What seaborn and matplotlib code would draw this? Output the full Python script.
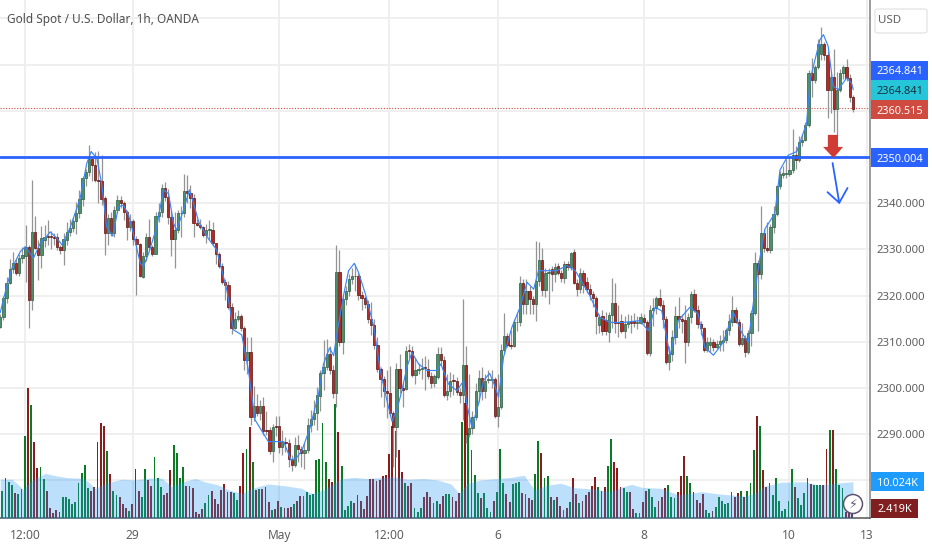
import pandas as pd
import numpy as np
import matplotlib
matplotlib.use("Agg")
import matplotlib.pyplot as plt
from matplotlib.patches import Rectangle, FancyBboxPatch, Circle
import seaborn as sns

# --- Candles (1h, one entry per bar) ---
opens = [
    2313.3,2315.4,2319.5,2322.8,2325.7,2327,2325,2328.2,2328.6,2330.6,
    2319,2333.8,2330.4,2328.8,2332,2333,2332.9,2332.6,2332.6,2330.6,
    2329.9,2332,2333.8,2334.6,2336.2,2337.8,2341,2345.4,2346.8,2349.5,
    2348.3,2345,2344.9,2341.2,2333.6,2336.7,2333.6,2338.5,2340.7,2340,
    2338,2334.8,2336.2,2332.2,2331.2,2324.1,2328.6,2332.6,2330.6,2329.1,
    2337.3,2338.2,2343.2,2341.3,2337.1,2332.2,2334.2,2337.8,2337.9,2342.7,
    2342.3,2341.1,2335.8,2335.3,2334.9,2333.1,2334.2,2334.2,2331.3,2329.1,
    2326.5,2322.9,2322.4,2317.6,2313.1,2314.9,2315.6,2312.9,2306.1,2307.8,
    2293.7,2296.1,2294.5,2296.1,2290.9,2290.9,2286.4,2291.7,2291.7,2287.2,
    2288.2,2288.2,2284.6,2283.4,2287.7,2286.8,2285.9,2286.5,2292.1,2293.3,
    2294.5,2298.3,2303.2,2304.5,2307.4,2303.8,2298.9,2325.1,2309.9,2319.3,
    2320.9,2323.6,2324.3,2324.2,2320.1,2319.4,2318.2,2315,2313.7,2309.3,
    2304.1,2302,2299.4,2298.9,2294.5,2291.5,2304.1,2300,2299.8,2308.1,
    2308.1,2302.9,2303.9,2304.2,2304.5,2304.2,2302.6,2301,2302.4,2307.4,
    2306.1,2298.5,2299.3,2301.6,2301.6,2299.2,2298.5,2304.9,2290,2291.4,
    2293.7,2299.4,2302.2,2299.4,2301.7,2301.8,2302,2294,2296,2308.3,
    2311.3,2309.3,2309,2314.2,2314.2,2322.7,2318.2,2321.1,2319.3,2318.2,
    2323.2,2327.7,2321.2,2325,2325.8,2324.7,2326.5,2324.8,2323.8,2326.9,
    2326.1,2329.4,2322.7,2321.4,2325,2323,2321.5,2320.4,2319.5,2313.6,
    2315.6,2314.7,2312.1,2315.9,2318.4,2314.4,2314.6,2312.3,2313.9,2314.2,
    2314.6,2314.1,2314.1,2315.1,2314.2,2307.6,2317,2317.3,2319.4,2318,
    2314.9,2305.6,2307.4,2311,2315.5,2314.9,2314.7,2309.9,2315.4,2320.4,
    2317,2313.8,2312.9,2308.2,2309.3,2310,2308.9,2309.5,2310,2310.4,
    2312.5,2314.4,2316.9,2314.4,2309.5,2310.8,2307.7,2312,2316.2,2327,
    2324.6,2333.5,2330.4,2329.8,2334.9,2337.7,2343.8,2346.2,2346.3,2346.3,
    2347.3,2350.4,2349.3,2353.3,2353.8,2356.9,2368.3,2366.7,2369.4,2372.4,
    2374.4,2372,2364.6,2367.3,2360.3,2364.6,2368.1,2369.5,2367.2,2363.1,
]
closes = [
    2315.4,2319.5,2322.8,2325.7,2327,2325,2328.2,2328.8,2330.6,2319,
    2333.8,2330.4,2328.8,2332.4,2332.8,2332.8,2332.6,2332.4,2330.6,2329.9,
    2332.2,2333.8,2334.6,2336.2,2337.8,2341,2345.4,2346.8,2349.5,2348.3,
    2345,2344.9,2341,2333.6,2336.7,2333.6,2338.5,2340.8,2340,2338,
    2334.9,2336.2,2332.2,2331.2,2324.2,2328.6,2332.6,2330.6,2329.1,2337.3,
    2338.2,2343.2,2341.3,2337.1,2332.2,2334.2,2337.8,2337.9,2342.7,2342.3,
    2341.1,2335.8,2335.3,2334.9,2333.1,2334.2,2334.3,2331.3,2329.1,2326.5,
    2322.9,2322.4,2317.6,2313.1,2314.9,2315.6,2312.9,2306.1,2307.9,2293.7,
    2296.1,2294.5,2296.1,2290.6,2290.6,2286.4,2291.6,2291.6,2287.3,2288.4,
    2288.1,2284.6,2283.4,2287.7,2286.8,2285.9,2286.6,2292.1,2293.3,2294.5,
    2298.4,2303.2,2304.5,2307.4,2303.8,2298.9,2325.1,2309.9,2319.3,2320.9,
    2323.6,2324.3,2324.2,2320.1,2319.4,2318.2,2315,2313.7,2309.3,2304.1,
    2302,2299.4,2298.9,2294.5,2291.5,2304.1,2300,2299.6,2308.1,2308,
    2302.9,2303.9,2304.2,2304.4,2304.3,2302.6,2301,2302.5,2307.4,2306.1,
    2298.5,2299.3,2301.5,2301.5,2299.2,2298.5,2304.9,2290,2291.4,2293.7,
    2299.4,2302.2,2299.4,2301.6,2301.8,2302,2294,2296,2308.3,2311.3,
    2309.3,2309.2,2314.2,2314.2,2322.7,2318.2,2321.1,2319.3,2318.2,2323.2,
    2327.7,2321.2,2325,2325.1,2324.7,2326.3,2324.8,2323.8,2326.9,2326.1,
    2329.2,2322.7,2321.4,2324.8,2322.3,2321.5,2320.4,2319.5,2315.6,2315.4,
    2312.3,2312.3,2315.9,2318.3,2314.1,2314.1,2312.4,2313.9,2314.4,2314.1,
    2314.1,2314.2,2315.3,2314.2,2307.6,2317,2317.3,2319.4,2318,2314.9,
    2305.6,2307.4,2311,2315.5,2314.9,2314.5,2309.9,2315.4,2320.4,2317,
    2313.8,2312.9,2308.2,2310,2310,2308.9,2309.5,2310.1,2310.5,2312.5,
    2314.6,2316.9,2314.4,2309.5,2310.8,2307.7,2312,2316.2,2327,2324.6,
    2333.5,2330.4,2329.9,2334.9,2337.7,2343.8,2346.3,2346.5,2346.5,2347.2,
    2350.4,2349.3,2353.3,2353.8,2356.9,2368.3,2366.7,2369.4,2374.4,2374.4,
    2372,2364.6,2367.3,2360.3,2364.6,2368.1,2369.5,2367.2,2363.1,2360.5,
]
highs = [
    2316,2320,2324,2328,2329.5,2328,2329,2330.5,2335.2,2331,
    2345,2337.2,2332,2335,2335.3,2336.3,2334,2333.5,2333.5,2331,
    2333.5,2336,2336.5,2337,2340.2,2342.8,2346,2347.5,2352.6,2350,
    2351,2351.3,2350.5,2341.5,2337.6,2338,2339.5,2341.7,2341.5,2340.5,
    2338.5,2337.6,2336.6,2333,2331.5,2329.5,2333.6,2336.5,2331,2338,
    2340,2344.2,2344.5,2343,2338.5,2338,2338.5,2339.5,2346.3,2346.2,
    2344,2342,2336.5,2336.5,2335,2335.5,2336.3,2336,2331.5,2329.5,
    2327,2323.5,2323.2,2318.5,2316.4,2317,2316,2313.5,2311,2311,
    2300.5,2298.8,2297.5,2298,2295,2291.5,2292.3,2294,2294,2291,
    2289.5,2289,2285.5,2289.5,2289.8,2287.5,2288,2293.5,2295.3,2297.5,
    2300.2,2304,2310.5,2310.6,2309,2305,2331,2329.8,2320,2322,
    2324.6,2326,2326.8,2325,2321,2320,2319,2318.7,2315,2311,
    2304.6,2302.5,2304,2304.8,2295,2305.5,2307.3,2301,2309,2309.5,
    2309,2306.5,2305.5,2306.5,2307,2306.3,2303.5,2303,2308.8,2308.8,
    2307,2303,2303.5,2303,2302.3,2300,2319.2,2309,2303,2295,
    2301,2304,2304.5,2303,2304,2304,2302.3,2303,2309.5,2316.3,
    2312,2312.5,2315,2316.5,2324.2,2323.5,2323.5,2322,2320,2331.9,
    2331.7,2330.3,2326,2326,2326.5,2327,2327,2325.5,2327.5,2327.5,
    2329.5,2330,2323.5,2326,2325.5,2324,2322.5,2321,2320,2316,
    2317,2316.5,2316.5,2323.8,2322.7,2318,2316,2315.5,2316,2315.8,
    2316.3,2315.5,2316.2,2316,2314.8,2318,2319.5,2320,2321.5,2319,
    2315.5,2309,2312.5,2317.8,2319.8,2316,2318,2316.3,2321,2321.5,
    2318,2314.5,2313.2,2311,2311,2310.6,2310.5,2311.5,2312.5,2313,
    2316,2319.9,2317.5,2315,2314,2311.5,2312.5,2317,2329.5,2327.8,
    2339.3,2334.5,2336,2335.5,2339.5,2344,2347,2348,2349.5,2350,
    2356,2352.5,2354.5,2355,2357.5,2368.8,2371.5,2370,2375.5,2378.2,
    2375,2373,2368,2373.5,2368.5,2369,2370,2371.2,2368,2363.5,
]
lows = [
    2313,2314.8,2318.5,2322.5,2325,2324.5,2324.2,2327,2323,2313,
    2316.9,2330,2323.3,2326,2330.5,2331,2330.2,2331,2329.8,2329,
    2326.6,2331,2333,2333.8,2333.3,2336.8,2339.5,2343.8,2345.8,2344.8,
    2344.5,2340,2339.7,2328.8,2331,2333,2332.8,2337.8,2339,2336.4,
    2332,2334,2331,2320.1,2324,2323.8,2327.5,2329.8,2328.6,2329,
    2336,2337,2340.5,2335.5,2328.6,2325.9,2333.5,2332.6,2337,2340,
    2339,2332.6,2335,2334.5,2332.8,2331.5,2332,2330.8,2326.9,2326,
    2322.5,2319,2317.2,2311.8,2312.8,2314.5,2312.3,2304,2303,2292,
    2292.8,2294,2293,2289.8,2289.8,2285.8,2284,2289.6,2286,2285.5,
    2286.2,2283,2282,2283,2284,2283,2282.5,2286,2290.5,2292,
    2291,2295,2299.5,2304,2303,2297.8,2296,2309,2307.3,2318,
    2320,2322.5,2321,2319,2317,2317.3,2314,2311.5,2308.5,2303.5,
    2298,2296,2293.5,2294,2283,2285,2299,2296,2299.5,2306.5,
    2302.3,2300.9,2303,2301.9,2299.5,2302,2300,2300.3,2302,2305,
    2298,2297.5,2298,2298.4,2298.5,2296.7,2293,2288,2289.5,2290,
    2293,2297,2297.5,2297.8,2301,2300,2293.5,2291.5,2295.5,2307.5,
    2308.8,2308.5,2308.8,2312.3,2313.5,2316,2316,2316,2316,2314.5,
    2322,2320,2319.7,2318.1,2321,2323,2324.5,2323,2322.8,2325.5,
    2325.5,2322.5,2320,2320.5,2320.5,2320.6,2319,2317.5,2311.6,2312,
    2311.5,2311.5,2310,2313,2312,2311,2312,2310.9,2313,2312,
    2313.2,2312.7,2313.8,2313.9,2307.2,2307,2313.5,2316,2317.5,2313,
    2305.3,2303.9,2305.8,2309.5,2313,2312,2305.5,2309,2314,2316.5,
    2313,2311.5,2307.8,2307.8,2307.8,2308,2308.5,2308,2308,2309.8,
    2311.5,2313.5,2314,2309,2309,2306.8,2307.3,2309,2315.8,2312.4,
    2323.6,2329.5,2329.5,2329.2,2333.5,2337.2,2343,2345.5,2345.5,2345.8,
    2346.5,2347.5,2349,2352.5,2353.5,2356.5,2363,2366,2369,2371,
    2371,2358.5,2359.5,2355.5,2354.5,2364,2367,2366.5,2362,2359.7,
]
volumes = [
    7.6,7.5,11,10,9.1,6.8,6.6,7.9,22.6,35.6,
    31,20.9,13.7,14,10.7,7.5,2.8,1.4,2.2,1.7,
    5.8,5.8,5.3,3.8,4.6,9.8,12.5,14.7,8.2,7.6,
    8.5,20.9,26,25.3,18.4,12.2,7.5,6.4,5.9,3.8,
    2.8,1.9,3.8,13.5,7.5,5.7,13.4,10.5,8.9,16.9,
    11,8.5,6.4,6.8,13.1,20,17.8,11,14,8.9,
    8.9,8.4,1.8,1.2,2.5,4.1,6.4,7.5,5.2,3.8,
    7.8,9.3,7.2,7.2,6.8,5,8.9,17.8,19,24.9,
    15.3,7.8,7.9,7.9,8.5,4.5,2.2,2.6,4.8,3.1,
    2.8,2.8,3.1,3.8,4.8,6.2,6.2,7.1,6.4,6.7,
    16,16.3,26,15.3,10.7,10,31.3,23.7,14.3,2.3,
    3.4,4.7,4.1,6.3,4.7,2.6,6.1,10.7,10.7,10.3,
    10.5,11.6,11.9,17.5,25.3,24,18.7,12.8,9.8,8.9,
    9.8,2.8,1.6,2.8,5.8,7.2,5.9,4.1,4.7,3.8,
    6.1,6.7,6.7,5.9,4.8,6.8,26.3,31.5,23.3,18.7,
    11.9,6.8,5.5,6.8,2.7,1.6,4.8,7.2,19,9.8,
    6.6,4.5,9.4,9.8,10,6.8,6.7,5.5,5,12.1,
    21.3,17.8,11,11.6,5.9,5,5.8,3.5,2.3,2.8,
    4.5,11,6.6,4.1,4.8,6.3,7.3,8.9,11.2,8.5,
    7.5,8.5,14.2,21.6,15.3,13.7,8.5,8.2,7.2,7.2,
    2.5,1.4,1.4,4.5,7.6,7.9,5.8,3.2,4.8,5.9,
    8.2,9.1,5.7,5.5,7.1,11.6,17.2,11.6,9.8,7.3,
    5,4.1,6.7,2.3,1.4,2,3.2,5.8,4.8,3.9,
    4.1,7.2,5.8,6.8,7.5,5.9,7.5,9.8,18.7,27.9,
    25.3,13.2,8.5,9.8,6.4,11,4.8,2,2.6,4.7,
    13.5,8.5,5.5,3.6,6.8,11,9.3,9.1,9.1,9.1,
    9.1,19,24.2,24.2,13.5,9.1,8.2,1.8,1.5,2.419,
]

# --- Price moving average, read at the turning points ---
ma_bar = [
    0,2,3.7,6.3,7.9,10.5,12.6,15.8,17.9,19.5,22,25.2,27.3,28.7,30.5,32,33.6,35.5,37.3,38.9,
    40.5,42,44.2,45.2,46.8,49.4,51.5,53.1,54.7,55.7,57.8,59.7,61,62.6,65.2,68.3,71.5,73.6,76.2,78.3,
    79.4,80.4,82,84.6,86.8,89.4,91.8,93.6,95.2,97.8,100.4,102,103.9,105.2,106.2,108.3,109.9,111.7,113,115.2,
    117.8,119.9,122,123.6,125.1,126.7,128.3,129.9,132,134.6,137.8,139,141.4,144.1,146.2,147.2,148.8,150.9,152.5,154.4,
    156.2,157.2,158.8,161.4,164,166.2,168.3,169.8,171.9,175.6,178.8,181.4,183,186,189.2,192.4,196.6,201.8,204.5,206.6,
    208.7,211.3,213.9,217.6,220.2,222.3,225,228.1,231.3,233.9,236,238.1,239.7,241.3,244.4,246,248.6,251.3,254.4,255.5,
    258.6,259.7,261.2,262.8,264.4,267,268.6,269.1,
]
ma_price = [
    2316.3,2321.9,2325.9,2329.5,2330.6,2328.1,2331.3,2333.8,2332.4,2331,2334.6,2341,2348.6,2351.2,2349.7,2344.3,2334.9,2332.9,2339.2,2339.6,
    2337.4,2333.5,2327,2326.3,2329.1,2334.9,2342.9,2342.1,2335.6,2334.2,2338.5,2342.9,2340,2336,2332.8,2329.9,2321.2,2312.6,2311.5,2303.9,
    2298.1,2293.1,2291.3,2288.4,2288.4,2288.4,2284.3,2285,2286.5,2291.5,2298.7,2305.2,2308.7,2307,2311.7,2320,2325.4,2327,2325.1,2320.4,
    2313.5,2303.8,2297.3,2292.8,2295.1,2299.4,2304.5,2307.7,2305.2,2303.8,2303.8,2305.2,2300.9,2299.4,2301.6,2296.6,2291.5,2296.6,2301.6,2303.2,
    2300.2,2298,2306.7,2313.1,2317.5,2322.9,2321.4,2325.4,2325.4,2325.4,2326.5,2325.4,2323.6,2320,2315.3,2314.2,2314.2,2314.6,2312.4,2317.5,
    2316.7,2307,2314.6,2317.5,2316,2308.8,2307.1,2309.9,2316.4,2312,2309.9,2321.1,2328.3,2334.5,2337.8,2347.2,2350.4,2351.2,2357.3,2366.7,
    2375.4,2376.5,2374,2365.3,2364.6,2367.1,2366,2364.6,
]

# --- Volume moving average ---
vol_ma_bar = [
    0,3.7,5.2,7.3,8.9,11,14.2,17.3,21.5,25.7,27.8,30,34,38.4,42.6,46.8,51,54.1,57.3,61.5,64.6,68.9,72,76.2,79.4,84.6,89.9,95.1,98.3,
    102,107.5,111.7,115.9,124.3,128.5,133.8,138,142.2,144.8,147.4,151.6,156.9,161.1,165.3,168.5,172.7,176.9,181.1,187.4,192.6,195.8,
    199.2,202.3,208.6,213.9,221.2,227.5,234.9,238,241.2,246.5,253.8,258,263.3,269,
]
vol_ma = [
    10.7,10.7,9.6,7.8,9.6,10.9,12.3,11.7,11.1,11,10,8.2,9.8,10.7,10.5,11,11,8.7,9.9,10.9,10,9.1,7.8,6.8,8.2,9.4,8.9,8.2,6.8,
    7.8,10.8,11.2,10.9,11.4,10.7,10.9,10.5,9.4,6.8,9.6,10.5,10.9,11.2,11.8,7.8,9.1,9.6,8.4,8,7.3,8.5,
    9.3,8.5,8.2,6.4,7.3,6.6,6.1,6.8,8.8,9.9,10,9.1,9.6,10.024,
]

# --- Axis labels ---
price_ticks = [2280, 2290, 2300, 2310, 2320, 2330, 2340, 2350, 2360, 2370, 2380]
price_labels = ["", "2290.000", "2300.000", "2310.000", "2320.000", "2330.000", "2340.000", "", "", "", ""]
time_ticks = [7.8, 41.8, 88, 122.7, 157, 203, 248.8, 273.3]
time_labels = ["12:00", "29", "May", "12:00", "6", "8", "10", "13"]

resistance = 2350.004
last_price = 2360.515

# --- Style ---
sns.set_theme(style="white")
plt.rcParams["font.family"] = ["Noto Sans", "DejaVu Sans"]

UP_BODY, UP_EDGE = "#4f8f6b", "#2a5c42"
DOWN_BODY, DOWN_EDGE = "#b32b24", "#5c1310"
GRID = "#eeeeee"
TEXT = "#5f5f5f"

W, H = 932, 550
PLOT_W, PLOT_H = 870, 518.3

df = pd.DataFrame({"bar": np.arange(len(opens)), "open": opens, "close": closes,
                   "high": highs, "low": lows, "volume": volumes})
df["dir"] = np.where(df["close"] >= df["open"], "up", "down")

fig = plt.figure(figsize=(W / 100, H / 100), dpi=100, facecolor="white")
rect = [0, 1 - PLOT_H / H, PLOT_W / W, PLOT_H / H]
ax = fig.add_axes(rect, zorder=1)
ax_vol = fig.add_axes(rect, zorder=2, sharex=ax)
ax_price = fig.add_axes(rect, zorder=3, sharex=ax, sharey=ax)
ax_vol.patch.set_visible(False)
ax_price.patch.set_visible(False)

ax.set_ylim(2271.8, 2384)
ax.set_xlim(-0.06, 274.4)
ax_vol.set_ylim(0, 142)

# --- Grid and axis ---
ax.set_yticks(price_ticks)
ax.set_yticklabels(price_labels, fontsize=8.2, color=TEXT, fontweight="medium")
ax.set_xticks(time_ticks)
ax.set_xticklabels(time_labels, fontsize=8.6, color=TEXT)
ax.yaxis.tick_right()
ax.tick_params(axis="y", length=0, pad=5)
ax.tick_params(axis="x", length=0, pad=8)
ax.grid(True, color=GRID, lw=1.3)
for side in ["left", "top"]:
    ax.spines[side].set_visible(False)
ax.spines["right"].set_color("#8a8a8a")
ax.spines["right"].set_linewidth(1.2)
ax.spines["bottom"].set_color("#555555")
ax.spines["bottom"].set_linewidth(1.1)
for a in [ax_vol, ax_price]:
    a.axis("off")

# --- Volume ---
vol_df = df.assign(x=df["bar"] - 0.3)
sns.barplot(data=vol_df, x="x", y="volume", hue="dir", hue_order=["up", "down"],
            palette={"up": "#0b7a24", "down": "#8c1c1c"}, native_scale=True, dodge=False,
            width=0.58, legend=False, ax=ax_vol, saturation=1, linewidth=0)
ax_vol.fill_between(vol_ma_bar, 0, vol_ma, color="#2196f3", alpha=0.3, lw=0)
ax_vol.set_xlim(-0.06, 274.4)
ax_vol.set_ylim(0, 142)
ax_vol.axis("off")

# --- Candles ---
ax_price.vlines(df["bar"], df["low"], df["high"], color="#949494", lw=0.9, zorder=2)
body_low = df[["open", "close"]].min(axis=1)
body_h = (df["close"] - df["open"]).abs().clip(lower=0.15)
is_up = df["dir"] == "up"
ax_price.bar(df["bar"][is_up], body_h[is_up], bottom=body_low[is_up], width=0.72,
             color=UP_BODY, edgecolor=UP_EDGE, lw=0.5, zorder=3)
ax_price.bar(df["bar"][~is_up], body_h[~is_up], bottom=body_low[~is_up], width=0.72,
             color=DOWN_BODY, edgecolor=DOWN_EDGE, lw=0.5, zorder=3)

sns.lineplot(x=ma_bar, y=ma_price, color="#3b86f7", lw=0.85, estimator=None, sort=False,
             ax=ax_price, zorder=4)

# --- Levels and drawings ---
ax_price.axhline(resistance, color="#2962ff", lw=2, zorder=5)
ax_price.axhline(last_price, color="#cf4a3f", lw=0.8, ls=(0, (1, 1.5)), zorder=1)
ax_price.fill([261.1, 264.3, 264.3, 265.9, 262.9, 259.6, 261.1],
              [2354.8, 2354.8, 2352.2, 2352.2, 2349.8, 2352.2, 2352.2],
              color="#d03c33", lw=0, zorder=6)
ax_price.plot([262.6, 264.7], [2348.7, 2340.1], color="#2962ff", lw=1.3, zorder=6)
ax_price.plot([261, 264.7, 267.3], [2342.4, 2340.1, 2343.3], color="#2962ff", lw=1.3, zorder=6)
ax_price.set_ylabel("")
ax_price.set_xlabel("")
ax_price.axis("off")


# --- Right side tags, placed in pixels from the top left ---
def tag(y0, y1, x1, text, fc, tc, size=7.9):
    fig.add_artist(Rectangle((871 / W, 1 - y1 / H), (x1 - 871) / W, (y1 - y0) / H,
                             transform=fig.transFigure, fc=fc, ec="none", zorder=10))
    fig.text((871 + x1) / 2 / W, 1 - (y0 + y1) / 2 / H, text, color=tc, fontsize=size,
             fontweight="bold", ha="center", va="center_baseline", zorder=11)


tag(61, 80, 928, "2364.841", "#2962ff", "white")
tag(80, 100, 928, "2364.841", "#26c6da", "#17313a")
tag(100, 119, 928, "2360.515", "#cf4a3f", "white")
tag(148, 167, 928, "2350.004", "#2962ff", "white")
tag(472, 491, 924, "10.024K", "#1e9bff", "white")
tag(499, 518, 918, "2.419K", "#7f1f1f", "white")

fig.add_artist(FancyBboxPatch((875 / W, 1 - 33 / H), 52 / W, 24 / H,
                              boxstyle="round,pad=0,rounding_size=0.004",
                              transform=fig.transFigure, fc="white", ec="#e6e6e6", lw=1, zorder=10))
fig.text(890 / W, 1 - 20.5 / H, "USD", color=TEXT, fontsize=8.3, ha="center", va="center", zorder=11)

# --- Replay button ---
fig.add_artist(Circle((853, H - 504), 9.5, transform=None, fc="white", ec="#5f5470", lw=1.1, zorder=10))
fig.text(853 / W, 1 - 504 / H, "\u26a1", family="DejaVu Sans", color="#5f5470", fontsize=9,
         ha="center", va="center", zorder=11)

# --- Title ---
fig.text(7 / W, 1 - 19 / H, "Gold Spot / U.S. Dollar, 1h, OANDA", color="#4f4f4f",
         fontsize=8.5, fontweight="semibold", ha="left", va="center", zorder=11)

fig.savefig("out.png", dpi=100)
